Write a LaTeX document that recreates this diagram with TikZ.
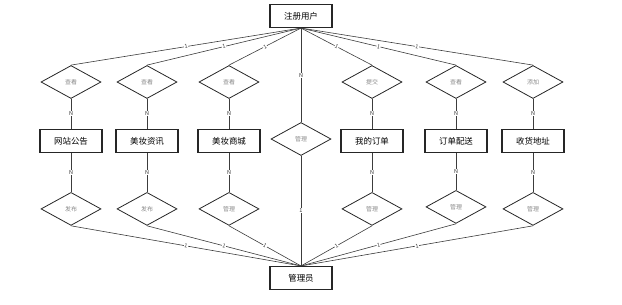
\documentclass[tikz,border=0pt]{standalone}
\usepackage{fontspec}
\usetikzlibrary{positioning,shapes.geometric}
\newfontfamily\cjk{Noto Sans CJK SC}
\definecolor{linegray}{HTML}{3C3C3C}
\definecolor{textgray}{HTML}{8A8A8A}

\begin{document}
\begin{tikzpicture}[x=1bp,y=1bp,font=\cjk,
  box/.style={draw=black!85,line width=1.1bp,minimum width=62bp,minimum height=23bp,inner sep=0,font=\cjk\fontsize{8.5}{10}\selectfont},
  rel/.style={diamond,draw=black!85,line width=0.8bp,minimum width=60bp,minimum height=33bp,inner sep=0,text=textgray,font=\cjk\fontsize{6}{7}\selectfont},
  lbl/.style={fill=white,inner sep=0.5bp,text=black!80,font=\cjk\fontsize{5.5}{5.5}\selectfont},
  link/.style={draw=linegray,line width=0.6bp}]
\useasboundingbox (0,0) rectangle (622,-304);
\node[box] (user) at (301,-16) {注册用户};
\node[box] (admin) at (301,-278) {管理员};
% relationships of the registered user
\node[rel] (viewnotice) at (71,-82) {查看};
\node[rel] (viewnews) at (147,-82) {查看};
\node[rel] (viewmall) at (229,-82) {查看};
\node[rel] (manage) at (301,-139) {管理};
\node[rel] (submit) at (372,-82) {提交};
\node[rel] (viewdelivery) at (456,-82) {查看};
\node[rel] (add) at (533,-82) {添加};
% entities
\node[box,below=30bp of viewnotice] (notice) {网站公告};
\node[box,below=30bp of viewnews] (news) {美妆资讯};
\node[box,below=30bp of viewmall] (mall) {美妆商城};
\node[box,below=30bp of submit] (order) {我的订单};
\node[box,below=30bp of viewdelivery] (delivery) {订单配送};
\node[box,below=30bp of add] (address) {收货地址};
% relationships of the admin
\node[rel,below=39bp of notice] (pubnotice) {发布};
\node[rel,below=39bp of news] (pubnews) {发布};
\node[rel,below=39bp of mall] (managemall) {管理};
\node[rel,below=39bp of order] (manageorder) {管理};
\node[rel,below=37bp of delivery] (managedelivery) {管理};
\node[rel,below=39bp of address] (manageaddress) {管理};
\draw[link] (user.south) -- node[lbl,sloped]{1} (viewnotice.north);
\draw[link] (user.south) -- node[lbl,sloped]{1} (viewnews.north);
\draw[link] (user.south) -- node[lbl,sloped]{1} (viewmall.north);
\draw[link] (user.south) -- node[lbl]{N} (manage.north);
\draw[link] (user.south) -- node[lbl,sloped]{1} (submit.north);
\draw[link] (user.south) -- node[lbl,sloped]{1} (viewdelivery.north);
\draw[link] (user.south) -- node[lbl,sloped]{1} (add.north);
\draw[link] (viewnotice) -- node[lbl]{N} (notice);
\draw[link] (viewnews) -- node[lbl]{N} (news);
\draw[link] (viewmall) -- node[lbl]{N} (mall);
\draw[link] (submit) -- node[lbl]{N} (order);
\draw[link] (viewdelivery) -- node[lbl]{N} (delivery);
\draw[link] (add) -- node[lbl]{N} (address);
\draw[link] (notice) -- node[lbl]{N} (pubnotice);
\draw[link] (news) -- node[lbl]{N} (pubnews);
\draw[link] (mall) -- node[lbl]{N} (managemall);
\draw[link] (order) -- node[lbl]{N} (manageorder);
\draw[link] (delivery) -- node[lbl]{N} (managedelivery);
\draw[link] (address) -- node[lbl]{N} (manageaddress);
\draw[link] (pubnotice.south) -- node[lbl,sloped]{1} (admin.north);
\draw[link] (pubnews.south) -- node[lbl,sloped]{1} (admin.north);
\draw[link] (managemall.south) -- node[lbl,sloped]{1} (admin.north);
\draw[link] (manage.south) -- node[lbl]{1} (admin.north);
\draw[link] (manageorder.south) -- node[lbl,sloped]{1} (admin.north);
\draw[link] (managedelivery.south) -- node[lbl,sloped]{1} (admin.north);
\draw[link] (manageaddress.south) -- node[lbl,sloped]{1} (admin.north);
\end{tikzpicture}
\end{document}
